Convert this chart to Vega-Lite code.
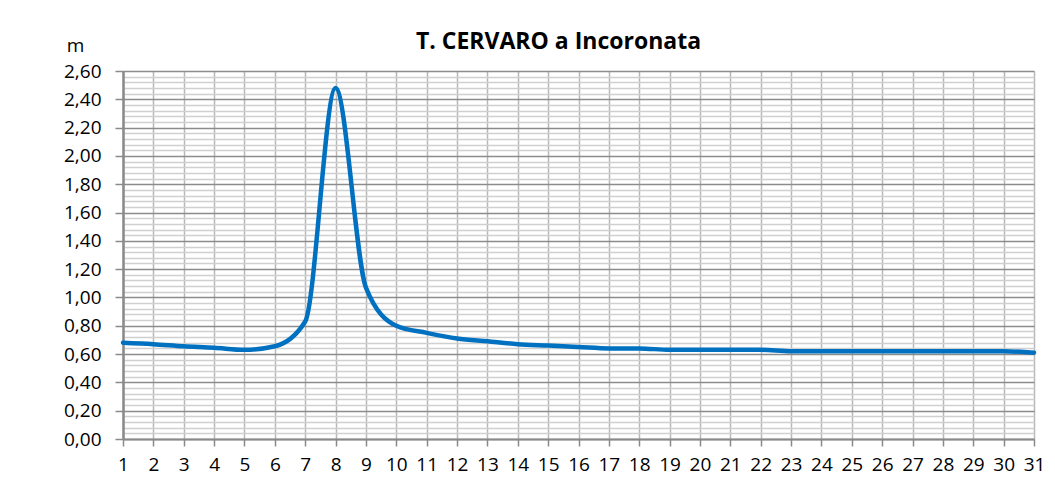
{
  "$schema": "https://vega.github.io/schema/vega-lite/v6.json",
  "width": 911,
  "height": 368,
  "autosize": {"type": "none"},
  "padding": {"left": 123, "top": 71, "right": 21, "bottom": 52},
  "background": "white",
  "title": {
    "text": "T. CERVARO a Incoronata",
    "anchor": "middle",
    "dx": -20,
    "offset": -18,
    "font": "Open Sans",
    "fontSize": 23,
    "fontWeight": "bold",
    "color": "#000000"
  },
  "data": {
    "values": [
      {"day": 1, "m": 0.68},
      {"day": 2, "m": 0.67},
      {"day": 3, "m": 0.655},
      {"day": 4, "m": 0.645},
      {"day": 5, "m": 0.63},
      {"day": 6, "m": 0.655},
      {"day": 7, "m": 0.83},
      {"day": 8, "m": 2.48},
      {"day": 9, "m": 1.07},
      {"day": 10, "m": 0.8},
      {"day": 11, "m": 0.75},
      {"day": 12, "m": 0.71},
      {"day": 13, "m": 0.69},
      {"day": 14, "m": 0.67},
      {"day": 15, "m": 0.66},
      {"day": 16, "m": 0.65},
      {"day": 17, "m": 0.64},
      {"day": 18, "m": 0.64},
      {"day": 19, "m": 0.63},
      {"day": 20, "m": 0.63},
      {"day": 21, "m": 0.63},
      {"day": 22, "m": 0.63},
      {"day": 23, "m": 0.62},
      {"day": 24, "m": 0.62},
      {"day": 25, "m": 0.62},
      {"day": 26, "m": 0.62},
      {"day": 27, "m": 0.62},
      {"day": 28, "m": 0.62},
      {"day": 29, "m": 0.62},
      {"day": 30, "m": 0.62},
      {"day": 31, "m": 0.61}
    ]
  },
  "mark": {"type": "line", "interpolate": "monotone", "color": "#0070c0", "strokeWidth": 4.5, "strokeCap": "round"},
  "encoding": {
    "x": {
      "field": "day",
      "type": "quantitative",
      "scale": {"domain": [1, 31], "nice": false, "zero": false},
      "axis": {
        "title": null,
        "values": [1,2,3,4,5,6,7,8,9,10,11,12,13,14,15,16,17,18,19,20,21,22,23,24,25,26,27,28,29,30,31],
        "format": "d",
        "labelFont": "Open Sans",
        "labelFontSize": 19,
        "labelColor": "#000000",
        "labelPadding": 9,
        "labelFlush": false,
        "labelOverlap": false,
        "tickSize": 7,
        "tickWidth": 1.5,
        "tickColor": "#8a8a8a",
        "domainColor": "#8a8a8a",
        "domainWidth": 2,
        "grid": true,
        "gridColor": "#b8b8b8",
        "gridWidth": 1.5
      }
    },
    "y": {
      "field": "m",
      "type": "quantitative",
      "scale": {"domain": [0, 2.6], "nice": false},
      "axis": {
        "title": "m",
        "titleAngle": 0,
        "titleX": -48,
        "titleY": -20,
        "titleAlign": "center",
        "titleBaseline": "alphabetic",
        "titleFont": "Open Sans",
        "titleFontSize": 19,
        "titleFontWeight": "normal",
        "titleColor": "#000000",
        "values": [0,0.04,0.08,0.12,0.16,0.2,0.24,0.28,0.32,0.36,0.4,0.44,0.48,0.52,0.56,0.6,0.64,0.68,0.72,0.76,0.8,0.84,0.88,0.92,0.96,1,1.04,1.08,1.12,1.16,1.2,1.24,1.28,1.32,1.36,1.4,1.44,1.48,1.52,1.56,1.6,1.64,1.68,1.72,1.76,1.8,1.84,1.88,1.92,1.96,2,2.04,2.08,2.12,2.16,2.2,2.24,2.28,2.32,2.36,2.4,2.44,2.48,2.52,2.56,2.6],
        "labelExpr": "abs(datum.value*5 - round(datum.value*5)) < 0.001 ? replace(format(datum.value, '.2f'), '.', ',') : ''",
        "labelFont": "Open Sans",
        "labelFontSize": 19,
        "labelColor": "#000000",
        "labelPadding": 14,
        "labelOverlap": false,
        "labelFlush": false,
        "tickSize": 8,
        "tickWidth": 1.5,
        "tickColor": "#8a8a8a",
        "tickOpacity": {"condition": {"test": "abs(datum.value*5 - round(datum.value*5)) < 0.001", "value": 1}, "value": 0},
        "domainColor": "#8a8a8a",
        "domainWidth": 2.5,
        "grid": true,
        "gridColor": {"condition": {"test": "abs(datum.value*5 - round(datum.value*5)) < 0.001", "value": "#8c8c8c"}, "value": "#d0d0d0"},
        "gridWidth": 1.5
      }
    }
  },
  "config": {
    "view": {"stroke": null}
  }
}
